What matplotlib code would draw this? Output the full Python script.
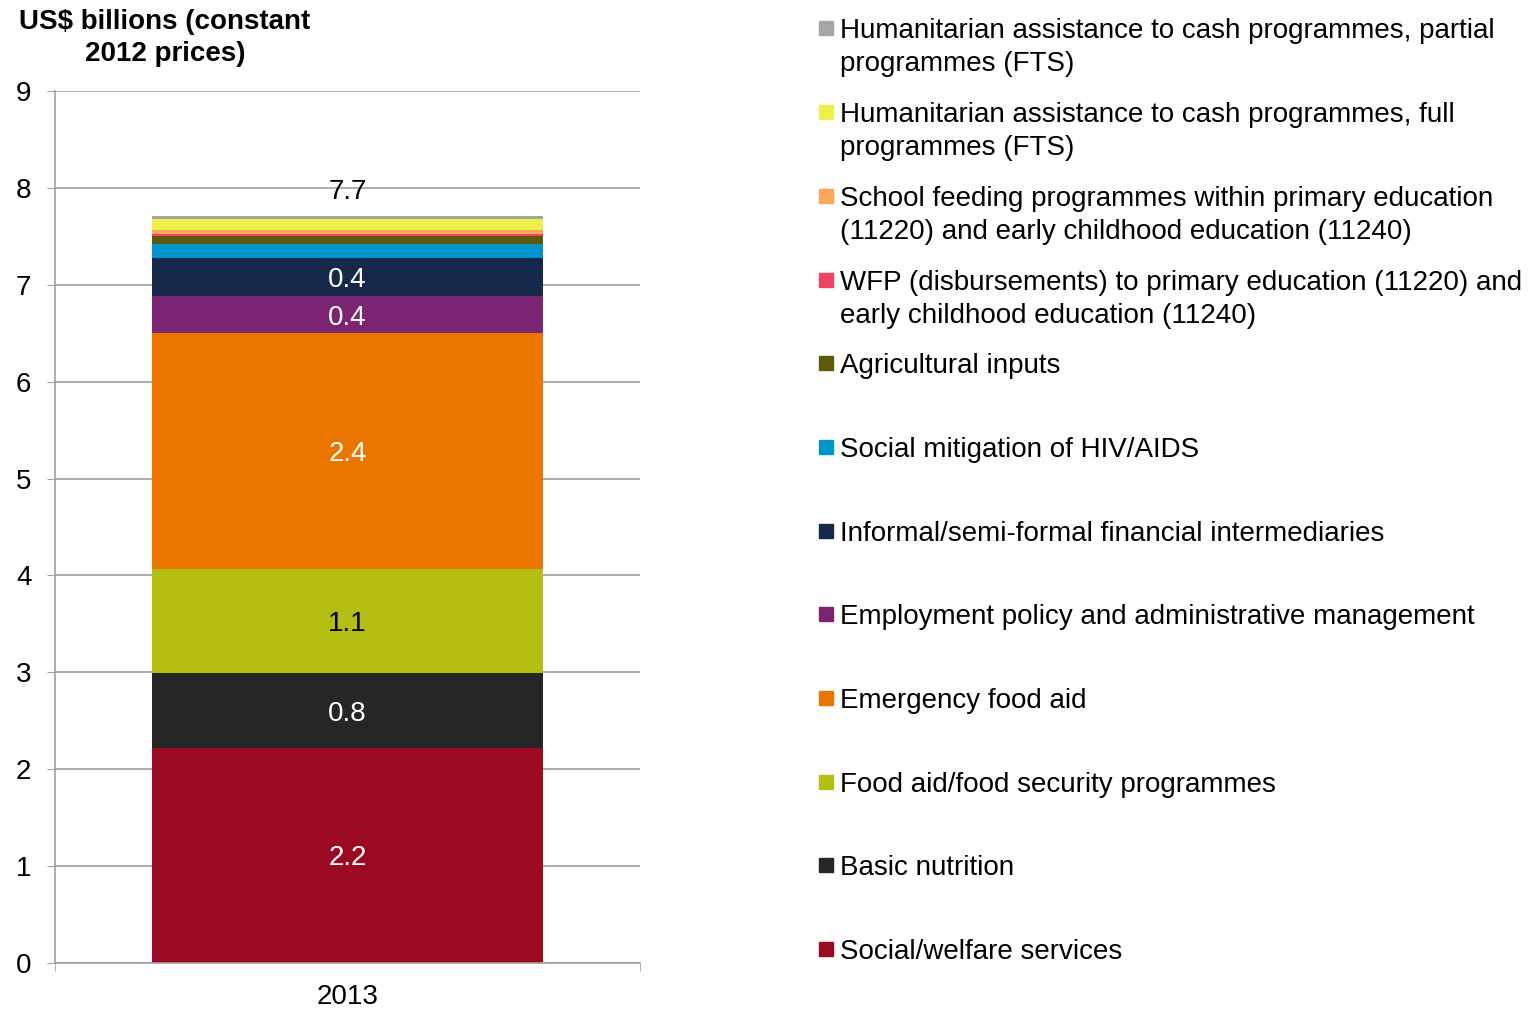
import numpy as np
import matplotlib.pyplot as plt
from matplotlib.patches import Rectangle

plt.rcParams['font.family'] = ['Liberation Sans', 'DejaVu Sans']

year = '2013'

# bottom to top
categories = [
    'Social/welfare services',
    'Basic nutrition',
    'Food aid/food security programmes',
    'Emergency food aid',
    'Employment policy and administrative management',
    'Informal/semi-formal financial intermediaries',
    'Social mitigation of HIV/AIDS',
    'Agricultural inputs',
    'WFP (disbursements) to primary education (11220) and\nearly childhood education (11240)',
    'School feeding programmes within primary education\n(11220) and early childhood education (11240)',
    'Humanitarian assistance to cash programmes, full\nprogrammes (FTS)',
    'Humanitarian assistance to cash programmes, partial\nprogrammes (FTS)',
]
values = [2.22, 0.77, 1.08, 2.43, 0.38, 0.40, 0.145, 0.08, 0.02, 0.04, 0.11, 0.04]
colors = ['#9b0a22', '#262626', '#b5bf13', '#ea7600', '#7b2572', '#16294b',
          '#0096cb', '#5e5a0c', '#ee4565', '#f8a858', '#ecf04a', '#a5a5a5']
label_colors = ['white', 'white', 'black', 'white', 'white', 'white']

W, H = 1535, 1011
fs = 20
fig = plt.figure(figsize=(W / 100, H / 100), dpi=100)
ax = fig.add_axes([55 / W, 1 - 963 / H, 585 / W, 872 / H])

bottom = 0
for i, (v, c) in enumerate(zip(values, colors)):
    ax.bar(0, v, width=0.667, bottom=bottom, color=c, zorder=2)
    if i < len(label_colors):
        ax.text(0, bottom + v / 2, f'{v:.1f}', ha='center', va='center_baseline',
                fontsize=fs, color=label_colors[i], zorder=3)
    bottom += v
total = sum(values)
ax.annotate(f'{total:.1f}', (0, total), xytext=(0, 27), textcoords='offset pixels',
            ha='center', va='center_baseline', fontsize=fs, color='black')

ax.set_xlim(-0.5, 0.5)
ax.set_ylim(0, 9)
ax.set_yticks(np.arange(0, 10, 1))
ax.yaxis.grid(True, color='#a0a0a0', linewidth=1.2, zorder=0)
ax.set_axisbelow(True)
ax.tick_params(axis='y', length=6, color='#a0a0a0', labelsize=fs, pad=11)
ax.set_xticks([0])
ax.set_xticklabels([year])
ax.set_xticks([-0.5, 0.5], minor=True)
ax.tick_params(axis='x', which='major', length=0, labelsize=fs, pad=15)
ax.tick_params(axis='x', which='minor', length=6, color='#a0a0a0')
for s in ['top', 'right']:
    ax.spines[s].set_visible(False)
for s in ['left', 'bottom']:
    ax.spines[s].set_color('#a0a0a0')
    ax.spines[s].set_linewidth(1.2)

fig.text(165 / W, 1 - 38 / H, 'US$ billions (constant\n2012 prices)', ha='center',
         va='center', fontsize=fs, fontweight='bold', linespacing=1.3)

# legend, top entry is the last series
ys = [28, 112, 196, 280, 363, 447, 531, 614, 698, 782, 865, 949]
for k, idx in enumerate(range(len(categories) - 1, -1, -1)):
    y = ys[k]
    fig.patches.append(Rectangle((819 / W, 1 - (y + 7) / H), 14 / W, 14 / H,
                                 transform=fig.transFigure, color=colors[idx]))
    for j, line in enumerate(categories[idx].split('\n')):
        fig.text(840 / W, 1 - (y + 33 * j) / H, line, ha='left',
                 va='center_baseline', fontsize=fs)

fig.savefig('out.png', dpi=100)
